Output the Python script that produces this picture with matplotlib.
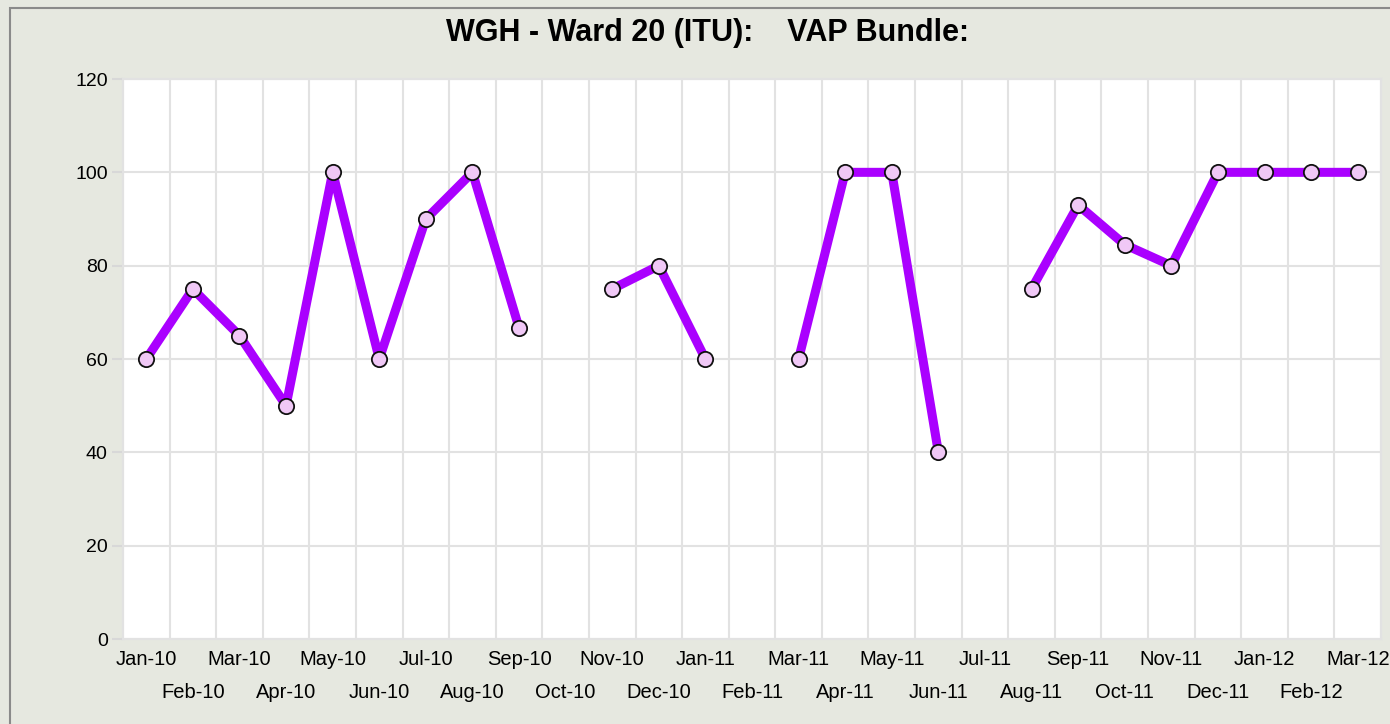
import numpy as np
import matplotlib.pyplot as plt
from matplotlib.patches import Rectangle

months = ['Jan-10', 'Feb-10', 'Mar-10', 'Apr-10', 'May-10', 'Jun-10', 'Jul-10',
          'Aug-10', 'Sep-10', 'Oct-10', 'Nov-10', 'Dec-10', 'Jan-11', 'Feb-11',
          'Mar-11', 'Apr-11', 'May-11', 'Jun-11', 'Jul-11', 'Aug-11', 'Sep-11',
          'Oct-11', 'Nov-11', 'Dec-11', 'Jan-12', 'Feb-12', 'Mar-12']
vap = [60, 75, 65, 50, 100, 60, 90, 100, 66.7, np.nan, 75, 80, 60, np.nan,
       60, 100, 100, 40, np.nan, 75, 93, 84.5, 80, 100, 100, 100, 100]
yticks = [0, 20, 40, 60, 80, 100, 120]

plt.rcParams['font.family'] = ['Liberation Sans', 'DejaVu Sans']

bg = '#e6e8e0'
fig = plt.figure(figsize=(13.9, 7.24), dpi=100, facecolor=bg)
# gray frame on the top / left edge
fig.patches.append(Rectangle((9.5/1390, -0.05), 1.1, 1 - 7.5/724 + 0.05,
                             transform=fig.transFigure, fill=False,
                             edgecolor='#8a8a8a', lw=1.5))

ax = fig.add_axes([123/1390, 85/724, 1258/1390, 560/724])
ax.set_facecolor('white')

x = np.arange(len(months))
ax.plot(x, vap, color='#aa00ff', lw=6.5, marker='o', ms=11,
        mfc='#f0c8f6', mec='#111111', mew=1.3, zorder=3)

ax.set_xlim(-0.5, len(months) - 0.5)
ax.set_ylim(0, 120)
ax.set_yticks(yticks)
ax.set_xticks(x)
ax.set_xticklabels(months, fontsize=14.5)
ax.set_xticks(np.arange(len(months) + 1) - 0.5, minor=True)
ax.grid(True, which='minor', axis='x', color='#e2e2e2', lw=1.5)
ax.grid(True, which='major', axis='y', color='#e2e2e2', lw=1.5)
ax.set_axisbelow(True)
ax.tick_params(axis='x', which='both', length=0)
ax.tick_params(axis='y', length=8, color='#d8d8d8', width=1.5, labelsize=14, pad=3)
for i, t in enumerate(ax.xaxis.get_major_ticks()):
    t.set_pad(8 if i % 2 == 0 else 32)
for s in ['top', 'left', 'bottom', 'right']:
    ax.spines[s].set_color('#e2e2e2')
    ax.spines[s].set_linewidth(1.5)

fig.text(0.5 + 12/1390, 1 - 33/724, 'WGH - Ward 20 (ITU):    VAP Bundle:',
         ha='center', va='center', fontsize=22, fontweight='bold')

fig.savefig('out.png', dpi=100, facecolor=bg)
